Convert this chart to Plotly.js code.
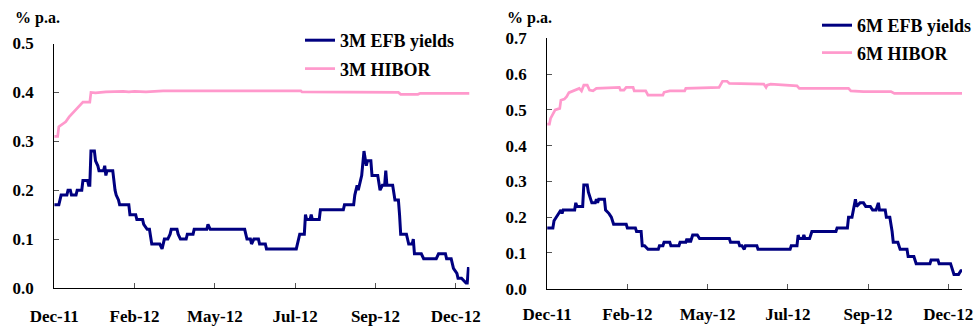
<!DOCTYPE html>
<html>
<head>
<meta charset="utf-8">
<script src="https://cdn.plot.ly/plotly-3.0.1.min.js"></script>
<style>html,body{margin:0;padding:0;background:#fff;}#chart{width:977px;height:326px;}</style>
</head>
<body>
<div id="chart"></div>
<script>
// ---------- 3M (left panel) ----------
const efb3mDates = ['2011-12-20','2011-12-24','2011-12-26','2011-12-31','2012-01-01','2012-01-03','2012-01-04','2012-01-08','2012-01-09','2012-01-13','2012-01-14','2012-01-18','2012-01-19','2012-01-20','2012-01-21','2012-01-24','2012-01-25','2012-01-27','2012-01-28','2012-02-01','2012-02-02','2012-02-03','2012-02-04','2012-02-09','2012-02-11','2012-02-12','2012-02-14','2012-02-15','2012-02-23','2012-02-24','2012-02-29','2012-03-01','2012-03-06','2012-03-07','2012-03-10','2012-03-12','2012-03-14','2012-03-21','2012-03-23','2012-03-25','2012-03-28','2012-03-30','2012-03-31','2012-04-05','2012-04-06','2012-04-08','2012-04-13','2012-04-14','2012-04-19','2012-04-20','2012-05-01','2012-05-02','2012-05-04','2012-06-03','2012-06-05','2012-06-08','2012-06-09','2012-06-11','2012-06-15','2012-06-16','2012-06-21','2012-06-22','2012-07-18','2012-07-20','2012-07-21','2012-07-25','2012-07-26','2012-07-27','2012-07-30','2012-07-31','2012-08-01','2012-08-07','2012-08-08','2012-08-28','2012-08-29','2012-09-06','2012-09-07','2012-09-09','2012-09-10','2012-09-12','2012-09-13','2012-09-15','2012-09-17','2012-09-18','2012-09-21','2012-09-22','2012-09-27','2012-09-29','2012-10-01','2012-10-03','2012-10-04','2012-10-05','2012-10-10','2012-10-12','2012-10-15','2012-10-16','2012-10-17','2012-10-22','2012-10-24','2012-10-27','2012-10-28','2012-10-29','2012-11-04','2012-11-06','2012-11-17','2012-11-19','2012-11-25','2012-11-26','2012-11-30','2012-12-02','2012-12-05','2012-12-06','2012-12-09','2012-12-13','2012-12-14','2012-12-15','2012-12-16'];
const efb3mValues = [0.17,0.17,0.19,0.19,0.20,0.20,0.19,0.19,0.20,0.20,0.22,0.22,0.21,0.21,0.28,0.28,0.26,0.25,0.24,0.24,0.25,0.23,0.24,0.24,0.20,0.19,0.18,0.17,0.17,0.15,0.15,0.14,0.14,0.13,0.12,0.12,0.09,0.09,0.08,0.10,0.10,0.11,0.12,0.12,0.11,0.10,0.10,0.11,0.11,0.12,0.12,0.13,0.12,0.12,0.10,0.10,0.09,0.10,0.10,0.09,0.09,0.08,0.08,0.10,0.11,0.11,0.15,0.14,0.14,0.15,0.14,0.14,0.16,0.16,0.17,0.17,0.19,0.21,0.20,0.22,0.23,0.28,0.25,0.26,0.26,0.23,0.23,0.20,0.21,0.21,0.24,0.21,0.21,0.18,0.18,0.15,0.11,0.11,0.09,0.09,0.10,0.07,0.07,0.06,0.06,0.07,0.07,0.06,0.06,0.04,0.03,0.02,0.02,0.01,0.01,0.04,0.04];

const hibor3mDates = ['2011-12-20','2011-12-23','2011-12-24','2011-12-27','2011-12-30','2012-01-02','2012-01-06','2012-01-10','2012-01-14','2012-01-20','2012-01-21','2012-01-25','2012-02-03','2012-02-18','2012-02-23','2012-02-28','2012-03-09','2012-03-24','2012-07-22','2012-07-23','2012-09-05','2012-09-06','2012-10-15','2012-10-17','2012-11-01','2012-11-03','2012-12-16'];
const hibor3mValues = [0.31,0.31,0.33,0.335,0.34,0.35,0.36,0.37,0.38,0.38,0.40,0.399,0.401,0.402,0.401,0.402,0.401,0.403,0.403,0.401,0.401,0.400,0.400,0.396,0.396,0.398,0.398];

// ---------- 6M (right panel) ----------
const efb6mDates = ['2011-12-20','2011-12-25','2011-12-26','2011-12-28','2011-12-30','2012-01-01','2012-01-02','2012-01-03','2012-01-13','2012-01-14','2012-01-15','2012-01-20','2012-01-21','2012-01-24','2012-01-25','2012-01-26','2012-01-28','2012-01-31','2012-02-01','2012-02-02','2012-02-03','2012-02-08','2012-02-09','2012-02-12','2012-02-14','2012-02-16','2012-02-27','2012-02-28','2012-03-06','2012-03-07','2012-03-11','2012-03-12','2012-03-14','2012-03-17','2012-03-26','2012-03-27','2012-03-30','2012-03-31','2012-04-05','2012-04-06','2012-04-13','2012-04-14','2012-04-19','2012-04-20','2012-04-21','2012-04-22','2012-04-23','2012-04-25','2012-04-29','2012-05-01','2012-05-27','2012-05-28','2012-06-04','2012-06-05','2012-06-07','2012-06-09','2012-06-10','2012-06-20','2012-06-21','2012-07-19','2012-07-20','2012-07-25','2012-07-26','2012-07-27','2012-07-30','2012-07-31','2012-08-01','2012-08-05','2012-08-07','2012-08-28','2012-08-29','2012-09-07','2012-09-08','2012-09-11','2012-09-13','2012-09-14','2012-09-15','2012-09-18','2012-09-21','2012-09-23','2012-09-27','2012-09-29','2012-10-02','2012-10-04','2012-10-05','2012-10-10','2012-10-11','2012-10-14','2012-10-16','2012-10-17','2012-10-21','2012-10-23','2012-10-29','2012-10-30','2012-11-04','2012-11-06','2012-11-18','2012-11-19','2012-11-25','2012-11-26','2012-12-06','2012-12-08','2012-12-09','2012-12-13','2012-12-15','2012-12-16'];
const efb6mValues = [0.17,0.17,0.19,0.20,0.21,0.22,0.21,0.22,0.22,0.24,0.23,0.23,0.29,0.29,0.27,0.26,0.24,0.24,0.25,0.24,0.25,0.25,0.22,0.21,0.20,0.18,0.18,0.17,0.17,0.16,0.16,0.12,0.12,0.11,0.11,0.12,0.12,0.13,0.13,0.12,0.12,0.13,0.13,0.14,0.13,0.14,0.13,0.15,0.15,0.14,0.14,0.13,0.13,0.12,0.12,0.11,0.12,0.12,0.11,0.11,0.12,0.12,0.15,0.14,0.14,0.15,0.14,0.14,0.16,0.16,0.17,0.17,0.20,0.20,0.23,0.25,0.23,0.24,0.24,0.23,0.23,0.22,0.22,0.24,0.22,0.22,0.20,0.20,0.16,0.13,0.13,0.11,0.11,0.09,0.09,0.07,0.07,0.08,0.08,0.07,0.07,0.05,0.04,0.04,0.05,0.05];

const hibor6mDates = ['2011-12-20','2011-12-22','2011-12-23','2011-12-25','2011-12-27','2011-12-31','2012-01-01','2012-01-04','2012-01-06','2012-01-08','2012-01-14','2012-01-17','2012-01-19','2012-01-21','2012-01-24','2012-01-26','2012-01-29','2012-02-01','2012-02-21','2012-02-22','2012-02-25','2012-02-27','2012-03-04','2012-03-05','2012-03-15','2012-03-17','2012-03-30','2012-03-31','2012-04-05','2012-04-18','2012-04-19','2012-05-18','2012-05-21','2012-05-25','2012-05-27','2012-06-26','2012-06-28','2012-06-29','2012-07-02','2012-07-25','2012-07-27','2012-09-08','2012-09-10','2012-09-21','2012-10-15','2012-10-18','2012-12-16'];
const hibor6mValues = [0.46,0.46,0.476,0.49,0.50,0.504,0.527,0.53,0.537,0.548,0.555,0.56,0.553,0.569,0.569,0.555,0.553,0.56,0.563,0.555,0.555,0.563,0.563,0.553,0.553,0.541,0.541,0.549,0.553,0.553,0.56,0.563,0.58,0.58,0.574,0.572,0.563,0.569,0.572,0.567,0.56,0.56,0.553,0.551,0.551,0.546,0.546];

const seriesNames = ['3M EFB yields','3M HIBOR','6M EFB yields','6M HIBOR'];
const unitLabel = '% p.a.';

const NAVY = '#000080', PINK = '#FF99CC';
const FONT = {family:'Liberation Serif, Times New Roman, serif', size:17, color:'#000', weight:700};
const LEGFONT = Object.assign({}, FONT, {size:18});

const traces = [
  {x:efb3mDates, y:efb3mValues, name:seriesNames[0], type:'scatter', mode:'lines', line:{color:NAVY,width:3}, xaxis:'x', yaxis:'y', legend:'legend', legendgroup:'a'},
  {x:hibor3mDates, y:hibor3mValues, name:seriesNames[1], type:'scatter', mode:'lines', line:{color:PINK,width:2.7}, xaxis:'x', yaxis:'y', legend:'legend', legendgroup:'b'},
  {x:efb6mDates, y:efb6mValues, name:seriesNames[2], type:'scatter', mode:'lines', line:{color:NAVY,width:3}, xaxis:'x2', yaxis:'y2', legend:'legend2', legendgroup:'c'},
  {x:hibor6mDates, y:hibor6mValues, name:seriesNames[3], type:'scatter', mode:'lines', line:{color:PINK,width:2.7}, xaxis:'x2', yaxis:'y2', legend:'legend2', legendgroup:'d'}
];

const xCommon = {
  type:'date', range:['2011-12-20','2012-12-16'], tick0:'2011-12-20', dtick:70*86400000,
  tickformat:'%b-%y', showgrid:false, zeroline:false, showline:true, linecolor:'#000', linewidth:1,
  ticks:'inside', ticklen:5, tickcolor:'#555', tickfont:FONT, ticklabelstandoff:10
};
const yCommon = {
  dtick:0.1, tickformat:'.1f', showgrid:false, zeroline:false, showline:true, linecolor:'#000', linewidth:1,
  ticks:'inside', ticklen:5, tickcolor:'#555', tickfont:FONT, ticklabelstandoff:16
};

const W = 977, H = 326;
const layout = {
  width:W, height:H, margin:{l:0,r:0,t:0,b:0}, paper_bgcolor:'#fff', plot_bgcolor:'#fff',
  font:FONT, showlegend:true,
  xaxis:Object.assign({}, xCommon, {domain:[54.3/W, 470/W], anchor:'y', ticklabelstandoff:13}),
  yaxis:Object.assign({}, yCommon, {range:[0,0.5], domain:[(H-288)/H, (H-43.5)/H], anchor:'x'}),
  xaxis2:Object.assign({}, xCommon, {domain:[547.7/W, 963/W], anchor:'y2'}),
  yaxis2:Object.assign({}, yCommon, {range:[0,0.7], domain:[(H-288.7)/H, (H-38.3)/H], anchor:'x2'}),
  legend:{x:300/W, y:1-22/H, xanchor:'left', yanchor:'top', bgcolor:'rgba(0,0,0,0)', font:LEGFONT, traceorder:'grouped', tracegroupgap:2},
  legend2:{x:818/W, y:1-7/H, xanchor:'left', yanchor:'top', bgcolor:'rgba(0,0,0,0)', font:LEGFONT, traceorder:'grouped', tracegroupgap:1},
  annotations:[
    {text:unitLabel, xref:'paper', yref:'paper', x:13/W, y:1-18/H, xanchor:'left', yanchor:'middle', showarrow:false, font:Object.assign({}, FONT, {size:16})},
    {text:unitLabel, xref:'paper', yref:'paper', x:506/W, y:1-18/H, xanchor:'left', yanchor:'middle', showarrow:false, font:Object.assign({}, FONT, {size:16})}
  ]
};

Plotly.newPlot('chart', traces, layout, {staticPlot:true, displayModeBar:false});
</script>
</body>
</html>
